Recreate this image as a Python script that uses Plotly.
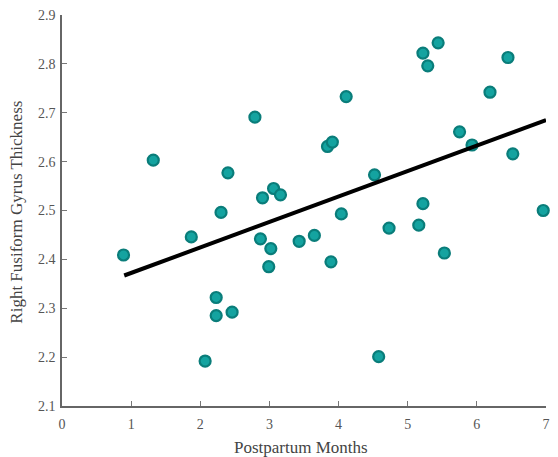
import plotly.graph_objects as go

months = [0.89, 1.32, 1.87, 2.07, 2.23, 2.23, 2.46, 2.30, 2.40, 2.79, 2.90, 3.06, 3.16,
          2.87, 3.02, 2.99, 3.43, 3.65, 3.89, 4.58, 4.73, 5.16, 5.53, 4.04, 4.52, 5.22,
          3.84, 3.91, 4.11, 5.22, 5.29, 5.44, 5.75, 5.93, 6.19, 6.45, 6.52, 6.96]
thickness = [2.409, 2.603, 2.446, 2.192, 2.322, 2.285, 2.292, 2.496, 2.577, 2.691, 2.526,
             2.545, 2.532, 2.442, 2.422, 2.385, 2.437, 2.449, 2.395, 2.201, 2.464, 2.470,
             2.413, 2.493, 2.573, 2.514, 2.631, 2.640, 2.733, 2.822, 2.796, 2.843, 2.661,
             2.634, 2.742, 2.813, 2.616, 2.500]

fit_x = [0.90, 7.0]
fit_y = [2.367, 2.685]

x_ticks = [0, 1, 2, 3, 4, 5, 6, 7]
y_ticks = [2.1, 2.2, 2.3, 2.4, 2.5, 2.6, 2.7, 2.8, 2.9]

x_title = "Postpartum Months"
y_title = "Right Fusiform Gyrus Thickness"

font = "Liberation Serif"

fig = go.Figure()
fig.add_trace(go.Scatter(
    x=months, y=thickness, mode="markers",
    marker=dict(size=11, color="#14a3a0", line=dict(color="#0a7d7a", width=2.2)),
    cliponaxis=False, showlegend=False,
))
fig.add_trace(go.Scatter(
    x=fit_x, y=fit_y, mode="lines",
    line=dict(color="black", width=4), showlegend=False,
))

axis_common = dict(
    showgrid=False, zeroline=False, showline=True, linecolor="#666666", linewidth=1.5,
    ticks="inside", ticklen=5, tickwidth=1.2, tickcolor="#777777", automargin=False,
    ticklabeloverflow="allow",
    tickfont=dict(family=font, size=14, color="#555555"),
)
fig.update_xaxes(range=[0, 7], tickvals=x_ticks, ticktext=[str(v) for v in x_ticks],
                 ticklabelstandoff=4, **axis_common)
fig.update_yaxes(range=[2.1, 2.9], tickvals=y_ticks, ticktext=[f"{v:.1f}" for v in y_ticks],
                 ticklabelstandoff=2, **axis_common)

fig.add_annotation(text=x_title, xref="paper", yref="paper", x=0.494, y=-0.106,
                   xanchor="center", yanchor="middle", showarrow=False,
                   font=dict(family=font, size=17, color="#444444"))
fig.add_annotation(text=y_title, xref="paper", yref="paper", x=-0.093, y=0.497,
                   xanchor="center", yanchor="middle", showarrow=False, textangle=-90,
                   font=dict(family=font, size=17, color="#444444"))

fig.update_layout(
    width=542, height=449,
    margin=dict(l=54, r=4, t=7, b=51),
    plot_bgcolor="white", paper_bgcolor="white",
)
fig.write_html("out.html")
